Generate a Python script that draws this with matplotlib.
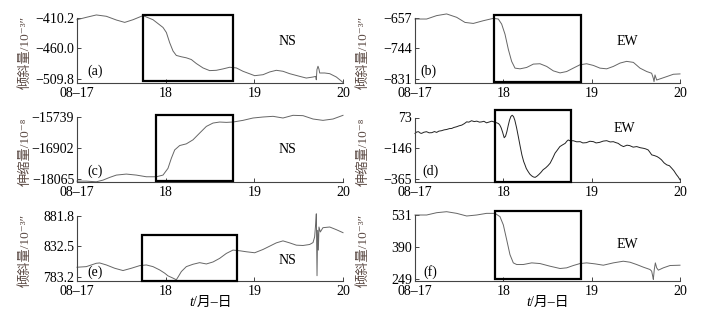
import matplotlib
matplotlib.use('Agg')
import matplotlib.pyplot as plt
from matplotlib.patches import Rectangle

plt.rcParams['font.family'] = ['Liberation Serif', 'Noto Sans CJK SC', 'DejaVu Sans']
plt.rcParams['axes.unicode_minus'] = True

#
# Data (time in days of August)
#

day_ticks = [17, 18, 19, 20]
day_labels = ['08\u201317', '18', '19', '20']

# (a) tilt NS
a_day = [17.0, 17.105, 17.218, 17.331, 17.444, 17.538, 17.632, 17.744, 17.857, 17.97,
         18.008, 18.045, 18.083, 18.12, 18.177, 18.233, 18.289, 18.346, 18.421, 18.496,
         18.571, 18.647, 18.722, 18.797, 18.872, 19.004, 19.098, 19.173, 19.248, 19.323,
         19.398, 19.511, 19.586, 19.662, 19.692, 19.699, 19.706, 19.718, 19.729, 19.737,
         19.793, 19.85, 19.925, 20.0]
a_val = [-413.0, -409.1, -405.2, -407.4, -413.5, -417.4, -413.0, -406.3, -413.0, -425.7,
         -434.0, -450.6, -464.4, -471.6, -473.8, -475.5, -478.3, -484.9, -492.1, -496.5,
         -496.0, -493.7, -491.0, -492.1, -497.6, -504.8, -503.2, -498.7, -496.0, -497.6,
         -501.5, -505.9, -508.7, -507.0, -506.0, -511.5, -495.0, -489.3, -494.0, -500.4,
         -500.4, -501.5, -507.0, -515.9]

# (b) tilt EW
b_day = [17.0, 17.132, 17.245, 17.358, 17.472, 17.566, 17.66, 17.774, 17.887, 17.943,
         17.981, 18.019, 18.057, 18.094, 18.132, 18.189, 18.264, 18.34, 18.415, 18.491,
         18.566, 18.642, 18.717, 18.792, 18.868, 18.943, 19.019, 19.094, 19.17, 19.245,
         19.321, 19.396, 19.472, 19.547, 19.623, 19.679, 19.698, 19.706, 19.717, 19.736,
         19.792, 19.849, 19.925, 20.0]
b_val = [-659.9, -659.9, -650.2, -645.4, -655.1, -669.6, -672.5, -664.7, -658.0, -659.9,
         -674.4, -703.4, -746.9, -780.7, -800.0, -802.0, -798.1, -788.5, -787.5, -795.2,
         -807.8, -813.6, -809.7, -800.0, -790.4, -787.5, -792.3, -800.0, -802.0, -795.2,
         -785.6, -780.7, -783.6, -800.0, -809.7, -814.6, -829.1, -838.7, -819.4, -833.9,
         -829.1, -824.2, -817.5, -816.5]

# (c) strain NS
c_day = [17.0, 17.105, 17.218, 17.293, 17.368, 17.444, 17.556, 17.669, 17.782, 17.895,
         17.97, 18.026, 18.064, 18.102, 18.158, 18.233, 18.308, 18.383, 18.459, 18.534,
         18.609, 18.684, 18.759, 18.872, 18.985, 19.098, 19.211, 19.323, 19.436, 19.549,
         19.662, 19.774, 19.887, 20.0]
c_val = [-18127.5, -18127.5, -18152.5, -18089.9, -17989.9, -17902.4, -17864.9, -17902.4, -17964.9, -17964.9,
         -17902.4, -17652.3, -17277.1, -16964.5, -16801.9, -16739.4, -16589.3, -16339.2, -16089.1, -15964.1,
         -15926.6, -15939.1, -15926.6, -15864.1, -15776.5, -15739.0, -15714.0, -15776.5, -15676.5, -15689.0,
         -15814.0, -15864.1, -15814.0, -15676.5]

# (d) strain EW
d_day = [17.00, 17.02, 17.04, 17.06, 17.075, 17.10, 17.13, 17.16, 17.19, 17.22,
         17.245, 17.27, 17.30, 17.33, 17.36, 17.39, 17.415, 17.44, 17.47, 17.50,
         17.53, 17.56, 17.585, 17.61, 17.64, 17.67, 17.70, 17.73, 17.755, 17.78,
         17.81, 17.84, 17.87, 17.90, 17.925, 17.945, 17.96, 17.975, 17.99, 18.01,
         18.025, 18.04, 18.055, 18.07, 18.085, 18.10, 18.115, 18.13, 18.15, 18.17,
         18.19, 18.21, 18.23, 18.245, 18.26, 18.28, 18.30, 18.32, 18.34, 18.36,
         18.38, 18.40, 18.425, 18.45, 18.48, 18.505, 18.53, 18.56, 18.585, 18.61,
         18.64, 18.67, 18.70, 18.72, 18.735, 18.76, 18.79, 18.83, 18.87, 18.90,
         18.94, 18.98, 19.02, 19.05, 19.09, 19.13, 19.17, 19.21, 19.245, 19.27,
         19.30, 19.33, 19.36, 19.40, 19.43, 19.47, 19.51, 19.55, 19.585, 19.61,
         19.64, 19.66, 19.68, 19.71, 19.74, 19.765, 19.79, 19.82, 19.85, 19.88,
         19.905, 19.93, 19.96, 19.98, 20.0]
d_val = [-40, -30, -28, -38, -40, -32, -28, -36, -35, -27,
         -33, -24, -21, -15, -12, -6, -5, 2, 7, 14,
         19, 30, 42, 40, 50, 44, 47, 40, 42, 46,
         35, 41, 47, 40, 35, 30, 19, 0, -28, -71,
         -60, -28, 15, 54, 80, 89, 80, 54, 0, -64,
         -130, -193, -240, -264, -290, -311, -330, -342, -350, -353,
         -345, -334, -318, -299, -285, -270, -252, -215, -181, -160,
         -134, -122, -111, -95, -87, -94, -92, -100, -99, -108,
         -106, -96, -99, -108, -104, -95, -92, -101, -99, -105,
         -111, -125, -134, -124, -127, -138, -134, -142, -146, -150,
         -158, -175, -193, -198, -205, -215, -228, -250, -264, -270,
         -287, -305, -334, -350, -370]

# (e) tilt NS
e_day = [17.0, 17.105, 17.218, 17.256, 17.331, 17.425, 17.519, 17.613, 17.707, 17.782,
         17.857, 17.932, 17.989, 18.026, 18.083, 18.12, 18.139, 18.177, 18.233, 18.308,
         18.383, 18.459, 18.534, 18.609, 18.684, 18.759, 18.835, 18.91, 19.004, 19.098,
         19.173, 19.248, 19.323, 19.398, 19.474, 19.549, 19.624, 19.662, 19.68, 19.692,
         19.699, 19.707, 19.714, 19.722, 19.729, 19.744, 19.774, 19.85, 19.925, 20.0]
e_val = [798.6, 799.6, 805.0, 805.5, 802.3, 797.0, 793.3, 797.0, 801.2, 802.3,
         799.6, 794.3, 789.1, 784.8, 781.1, 778.5, 782.7, 791.7, 799.6, 803.4,
         806.0, 803.9, 807.1, 812.9, 820.8, 826.2, 825.1, 823.5, 821.9, 827.2,
         832.5, 837.8, 841.0, 837.8, 834.1, 833.6, 835.2, 838.3, 847.4, 868.6,
         884.5, 785.0, 858.0, 826.2, 863.3, 855.3, 862.2, 863.3, 859.0, 854.2]

# (f) tilt EW
f_day = [17.0, 17.132, 17.245, 17.358, 17.472, 17.585, 17.698, 17.811, 17.906, 17.962,
         18.0, 18.038, 18.075, 18.113, 18.151, 18.226, 18.321, 18.415, 18.528, 18.642,
         18.717, 18.792, 18.868, 18.943, 19.038, 19.132, 19.245, 19.358, 19.434, 19.509,
         19.585, 19.66, 19.679, 19.691, 19.698, 19.709, 19.721, 19.736, 19.755, 19.811,
         19.887, 20.0]
f_val = [531.0, 531.0, 541.2, 545.6, 538.3, 526.6, 531.0, 538.3, 538.3, 523.7,
         487.2, 421.4, 355.7, 319.2, 311.9, 311.9, 319.2, 316.2, 304.5, 294.3,
         297.2, 307.5, 316.2, 319.2, 314.8, 308.9, 319.2, 326.5, 322.1, 311.9,
         300.2, 289.9, 282.6, 260.7, 246.1, 289.9, 319.2, 297.2, 287.0, 297.2,
         307.5, 308.9]

# y ticks shown on each panel
a_ticks = [-509.8, -460.0, -410.2]
b_ticks = [-831, -744, -657]
c_ticks = [-18065, -16902, -15739]
d_ticks = [-365, -146, 73]
e_ticks = [783.2, 832.5, 881.8]
f_ticks = [249, 390, 531]

# highlighted windows: (day start, day end, value low, value high)
a_box = (17.744, 18.76, -514.2, -404.7)
b_box = (17.89, 18.88, -838.7, -648.3)
c_box = (17.895, 18.759, -18127, -15664)
d_box = (17.906, 18.766, -386, 124.8)
e_box = (17.734, 18.81, 777.0, 850.0)
f_box = (17.90, 18.88, 249.0, 548.5)

TILT = '倾斜量/10\u207b\u00b3\u2033'
STRAIN = '伸缩量/10\u207b\u2078'


def fmt(v, ndec):
    s = f'{abs(v):.{ndec}f}'
    return ('\u2212' + s) if v < 0 else s


def draw_panel(ax, days, vals, ylim, ticks, ndec, box, comp, comp_xy,
               letter, ylabel, color):
    SPINE = '#444444'
    ax.plot(days, vals, color=color, lw=0.7, clip_on=False)
    ax.set_xlim(17, 20)
    ax.set_ylim(*ylim)

    ax.set_xticks(day_ticks)
    ax.set_xticklabels(day_labels)
    ax.set_yticks(ticks)
    ax.set_yticklabels([fmt(t, ndec) for t in ticks])

    for s in ['top', 'right']:
        ax.spines[s].set_visible(False)
    for s in ['left', 'bottom']:
        ax.spines[s].set_color(SPINE)
        ax.spines[s].set_linewidth(0.8)
    ax.tick_params(direction='in', length=3, width=0.7, color=SPINE,
                   labelsize=10, pad=2)
    ax.tick_params(axis='x', pad=3)

    x0, x1, y0, y1 = box
    ax.add_patch(Rectangle((x0, y0), x1 - x0, y1 - y0, fill=False,
                           ec='black', lw=1.6, clip_on=False, zorder=3))

    ax.text(comp_xy[0], comp_xy[1], comp, transform=ax.transAxes,
            fontsize=10, ha='center', va='center')
    ax.text(letter[1], letter[2], letter[0], transform=ax.transAxes,
            fontsize=10, ha='center', va='center')

    ax.set_ylabel(ylabel, fontsize=9.5, color='#5c4b45')
    ax.yaxis.set_label_coords(-0.17, 0.47)


fig = plt.figure(figsize=(7.01, 3.18), dpi=100)
W, H = 701.0, 318.0


def axes_px(left, right, top, bottom):
    return fig.add_axes([left / W, 1 - bottom / H, (right - left) / W, (bottom - top) / H])


ax_a = axes_px(77, 343, 18, 82.5)
ax_b = axes_px(415, 680, 18, 82.5)
ax_c = axes_px(77, 343, 117, 182)
ax_d = axes_px(415, 680, 117.5, 182)
ax_e = axes_px(77, 343, 215.5, 281)
ax_f = axes_px(415, 680, 215, 281)

LINE = '#666666'
draw_panel(ax_a, a_day, a_val, (-516, -410.2), a_ticks, 1, a_box, 'NS', (0.79, 0.63),
           ('(a)', 0.068, 0.17), TILT, LINE)
draw_panel(ax_b, b_day, b_val, (-841, -657), b_ticks, 0, b_box, 'EW', (0.80, 0.63),
           ('(b)', 0.05, 0.17), TILT, LINE)
draw_panel(ax_c, c_day, c_val, (-18160, -15739), c_ticks, 0, c_box, 'NS', (0.79, 0.505),
           ('(c)', 0.068, 0.165), STRAIN, LINE)
draw_panel(ax_d, d_day, d_val, (-386, 73), d_ticks, 0, d_box, 'EW', (0.79, 0.83),
           ('(d)', 0.057, 0.165), STRAIN, '#222222')
draw_panel(ax_e, e_day, e_val, (776.5, 881.8), e_ticks, 1, e_box, 'NS', (0.79, 0.31),
           ('(e)', 0.068, 0.14), TILT, LINE)
draw_panel(ax_f, f_day, f_val, (239, 531), f_ticks, 0, f_box, 'EW', (0.80, 0.56),
           ('(f)', 0.057, 0.14), TILT, LINE)

# x label "t/月–日" with an italic t, centred under the bottom panels
for ax in (ax_e, ax_f):
    pos = ax.get_position()
    xs = pos.x0 + pos.width / 2 - 17 / W
    fig.text(xs, 1 - 302 / H, 't', fontsize=10.5, style='italic',
             ha='right', va='center')
    fig.text(xs, 1 - 302 / H, '/月\u2013日', fontsize=10,
             ha='left', va='center')

plt.savefig('out.png', dpi=100)
